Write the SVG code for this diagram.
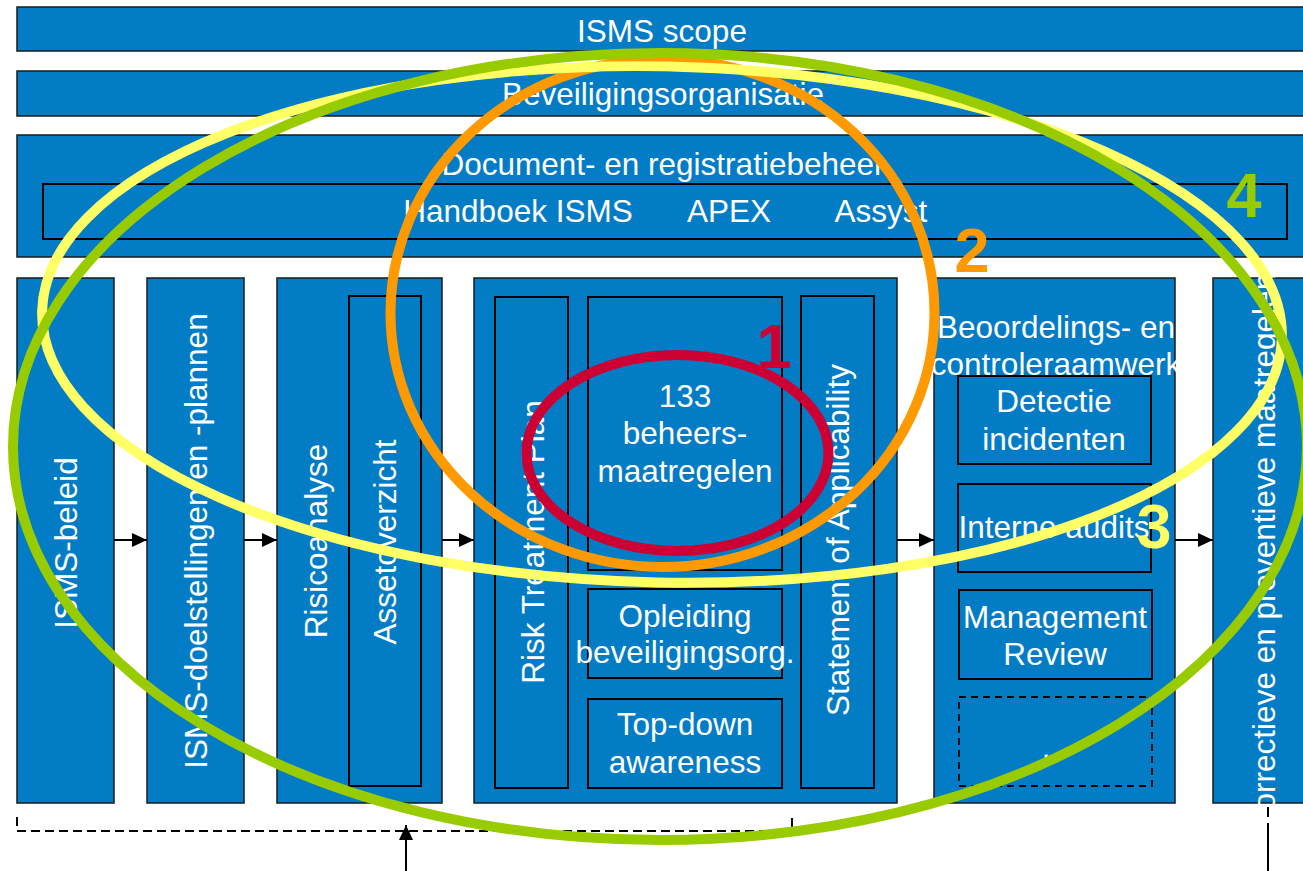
<svg xmlns="http://www.w3.org/2000/svg" width="1303" height="871" viewBox="0 0 1303 871">
<style>
.box{fill:#037CC6;stroke:#1a1a1a;stroke-width:1.5}
.in{fill:#037CC6;stroke:#000;stroke-width:2}
.dash{fill:#037CC6;stroke:#000;stroke-width:1.8;stroke-dasharray:7,5}
.t{font-family:"Liberation Sans",Arial,sans-serif;font-size:31.5px;fill:#fff;text-anchor:middle}
.num{font-family:"Liberation Sans",Arial,sans-serif;font-size:63px;font-weight:bold;text-anchor:middle}
.con{fill:none;stroke:#000;stroke-width:2}
.ring{fill:none;stroke-width:10}
</style>
<defs>
<marker id="ah" viewBox="0 0 15 14" refX="15" refY="7" markerWidth="15" markerHeight="14" markerUnits="userSpaceOnUse" orient="auto">
<path d="M0,0 L15,7 L0,14 z" fill="#000"/>
</marker>
</defs>
<rect width="1303" height="871" fill="#fff"/>

<g id="scope"><rect class="box" x="17" y="7" width="1300" height="44"/><text class="t" x="662" y="42">ISMS scope</text></g>
<g id="beveiligingsorganisatie"><rect class="box" x="17" y="71" width="1300" height="45"/><text class="t" x="663" y="105">Beveiligingsorganisatie</text></g>
<g id="documentbeheer"><rect class="box" x="17" y="135" width="1300" height="122"/><text class="t" x="663" y="175">Document- en registratiebeheer</text>
<rect class="in" x="43" y="184" width="1244" height="55"/>
<text class="t" x="518" y="222">Handboek ISMS</text><text class="t" x="729" y="222">APEX</text><text class="t" x="881" y="222">Assyst</text></g>

<g id="beleid"><rect class="box" x="17" y="278" width="97" height="525"/><text class="t" transform="translate(77,543) rotate(-90)">ISMS-beleid</text></g>
<g id="doelstellingen"><rect class="box" x="147" y="278" width="97" height="525"/><text class="t" transform="translate(207,541) rotate(-90)">ISMS-doelstellingen en -plannen</text></g>
<g id="risicoanalyse"><rect class="box" x="277" y="278" width="165" height="525"/><text class="t" transform="translate(327,541) rotate(-90)">Risicoanalyse</text>
<rect class="in" x="349" y="296" width="72" height="490"/><text class="t" transform="translate(396,542) rotate(-90)">Assetoverzicht</text></g>
<g id="maatregelen"><rect class="box" x="474" y="278" width="423" height="525"/>
<rect class="in" x="495" y="297" width="73" height="491"/><text class="t" transform="translate(544,542) rotate(-90)">Risk Treatment Plan</text>
<rect class="in" x="588" y="297" width="194" height="273"/><text class="t" x="685" y="407">133</text><text class="t" x="685" y="444">beheers-</text><text class="t" x="685" y="482">maatregelen</text>
<rect class="in" x="588" y="589" width="194" height="89"/><text class="t" x="685" y="627">Opleiding</text><text class="t" x="685" y="663">beveiligingsorg.</text>
<rect class="in" x="588" y="699" width="194" height="89"/><text class="t" x="685" y="735">Top-down</text><text class="t" x="685" y="773">awareness</text>
<rect class="in" x="801" y="296" width="73" height="492"/><text class="t" transform="translate(849,540) rotate(-90)">Statement of Applicability</text></g>
<g id="beoordeling"><rect class="box" x="934" y="278" width="241" height="525"/>
<text class="t" x="1056" y="338">Beoordelings- en</text><text class="t" x="1056" y="375">controleraamwerk</text>
<rect class="in" x="958" y="376" width="193" height="88"/><text class="t" x="1054" y="412">Detectie</text><text class="t" x="1054" y="450">incidenten</text>
<rect class="in" x="958" y="484" width="193" height="88"/><text class="t" x="1054" y="538">Interne audits</text>
<rect class="in" x="959" y="590" width="193" height="89"/><text class="t" x="1055" y="628">Management</text><text class="t" x="1055" y="665">Review</text>
<rect class="dash" x="959" y="697" width="193" height="89"/><text class="t" x="1055" y="758">...</text></g>
<g id="correctief"><rect class="box" x="1213" y="278" width="110" height="525"/><text class="t" transform="translate(1275,553) rotate(-90)">Correctieve en preventieve maatregelen</text></g>

<g id="connectors">
<path class="con" d="M114,540 H147" marker-end="url(#ah)"/>
<path class="con" d="M244,540 H277" marker-end="url(#ah)"/>
<path class="con" d="M442,540 H474" marker-end="url(#ah)"/>
<path class="con" d="M897,540 H934" marker-end="url(#ah)"/>
<path class="con" d="M1175,540 H1213" marker-end="url(#ah)"/>
<path class="con" d="M406,871 V825" marker-end="url(#ah)"/>
<path class="con" d="M17,831 H792" stroke-dasharray="9,5"/>
<path class="con" d="M17,817 V826 M792,818 V829"/>
<path class="con" d="M1268,807 V817 M1268,823 V871"/>
</g>

<g id="rings">
<ellipse class="ring" cx="662.5" cy="313" rx="272" ry="254" stroke="#FF9900"/>
<ellipse class="ring" cx="662" cy="324.5" rx="620" ry="258" stroke="#FFFF66" stroke-width="11" transform="rotate(1.2 662 324.5)"/>
<ellipse class="ring" cx="660" cy="446.5" rx="647" ry="393.5" stroke="#99CC00"/>
<ellipse class="ring" cx="677.5" cy="453" rx="151" ry="98" stroke="#CC0033"/>
</g>
<g id="labels">
<text class="num" x="774" y="368" fill="#CC0033">1</text>
<text class="num" x="972" y="272" fill="#FF9900">2</text>
<text class="num" x="1154" y="548" fill="#FFFF66">3</text>
<text class="num" x="1244" y="217" fill="#99CC00">4</text>
</g>
</svg>
